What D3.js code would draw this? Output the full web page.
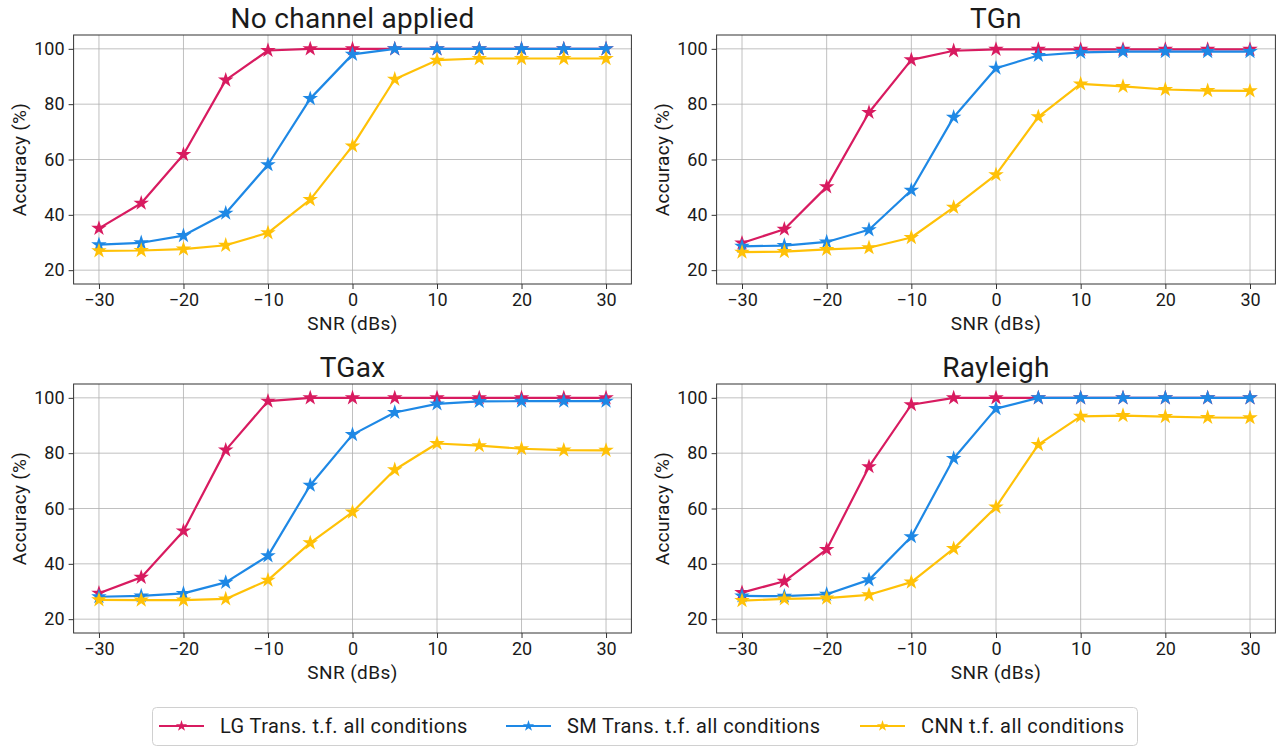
<!DOCTYPE html>
<html>
<head>
<meta charset="utf-8">
<script src="https://cdn.jsdelivr.net/npm/d3@7"></script>
<style>
  body { margin: 0; background: #fff; }
  svg text { font-family: Roboto, "Noto Sans", sans-serif; fill: #1a1a1a; }
</style>
</head>
<body>
<svg id="chart" width="1284" height="746"></svg>
<script>
// SNR values (dB)
var snr = [-30, -25, -20, -15, -10, -5, 0, 5, 10, 15, 20, 25, 30];
var xTicks = [-30, -20, -10, 0, 10, 20, 30];
var yTicks = [20, 40, 60, 80, 100];

var seriesNames = ["LG Trans. t.f. all conditions", "SM Trans. t.f. all conditions", "CNN t.f. all conditions"];
var seriesColors = ["#D81B60", "#1E88E5", "#FFC107"];

var panelTitles = ["No channel applied", "TGn", "TGax", "Rayleigh"];

// accuracy (%) per panel
var noChanLG  = [35.1, 44.2, 61.8, 88.7, 99.4, 100, 100, 100, 100, 100, 100, 100, 100];
var noChanSM  = [29.2, 29.9, 32.5, 40.6, 58.1, 82.0, 98.0, 100, 100, 100, 100, 100, 100];
var noChanCNN = [27.0, 27.1, 27.6, 29.0, 33.5, 45.5, 64.9, 89.0, 95.9, 96.5, 96.5, 96.5, 96.5];

var tgnLG  = [29.8, 34.8, 50.1, 77.0, 96.0, 99.3, 99.8, 99.8, 99.8, 99.8, 99.8, 99.8, 99.8];
var tgnSM  = [28.6, 28.9, 30.2, 34.6, 48.9, 75.3, 93.0, 97.6, 98.7, 99.0, 99.0, 99.0, 99.0];
var tgnCNN = [26.5, 26.7, 27.5, 28.1, 31.8, 42.7, 54.5, 75.4, 87.3, 86.4, 85.3, 84.9, 84.8];

var tgaxLG  = [29.4, 35.1, 51.9, 81.1, 98.8, 100, 100, 100, 100, 100, 100, 100, 100];
var tgaxSM  = [28.1, 28.4, 29.3, 33.3, 42.9, 68.4, 86.7, 94.7, 97.8, 98.7, 98.8, 98.8, 98.8];
var tgaxCNN = [27.0, 26.9, 26.9, 27.3, 34.1, 47.6, 58.7, 74.0, 83.5, 82.7, 81.6, 81.1, 81.0];

var rayLG  = [29.6, 33.7, 45.2, 75.1, 97.5, 100, 100, 100, 100, 100, 100, 100, 100];
var raySM  = [28.4, 28.3, 29.0, 34.2, 49.8, 78.1, 96.1, 100, 100, 100, 100, 100, 100];
var rayCNN = [26.7, 27.3, 27.6, 28.8, 33.4, 45.5, 60.5, 83.1, 93.3, 93.6, 93.2, 92.9, 92.8];

var panelData = [
  [noChanLG, noChanSM, noChanCNN],
  [tgnLG, tgnSM, tgnCNN],
  [tgaxLG, tgaxSM, tgaxCNN],
  [rayLG, raySM, rayCNN]
];

var svg = d3.select("#chart");

// axes boxes: [left, top, right, bottom]
var boxes = [
  [73.6, 35, 631.4, 284],
  [716.6, 35, 1275.4, 284],
  [73.6, 384, 631.4, 633],
  [716.6, 384, 1275.4, 633]
];

var star = d3.symbol().type(d3.symbolStar);

boxes.forEach(function (b, p) {
  var x = d3.scaleLinear().domain([-33, 33]).range([b[0], b[2]]);
  var y = d3.scaleLinear().domain([15, 105]).range([b[3], b[1]]);
  var g = svg.append("g");

  // grid
  g.append("g").selectAll("line").data(xTicks).join("line")
    .attr("x1", function (d) { return x(d); }).attr("x2", function (d) { return x(d); })
    .attr("y1", b[1]).attr("y2", b[3])
    .attr("stroke", "#b0b0b0").attr("stroke-width", 0.8);
  g.append("g").selectAll("line").data(yTicks).join("line")
    .attr("y1", function (d) { return y(d); }).attr("y2", function (d) { return y(d); })
    .attr("x1", b[0]).attr("x2", b[2])
    .attr("stroke", "#b0b0b0").attr("stroke-width", 0.8);

  // axes
  var xAxis = g.append("g").attr("transform", "translate(0," + b[3] + ")")
    .call(d3.axisBottom(x).tickValues(xTicks).tickSize(5).tickPadding(4)
      .tickFormat(function (d) { return d < 0 ? "\u2212" + Math.abs(d) : d; }));
  var yAxis = g.append("g").attr("transform", "translate(" + b[0] + ",0)")
    .call(d3.axisLeft(y).tickValues(yTicks).tickSize(5).tickPadding(4));
  [xAxis, yAxis].forEach(function (a) {
    a.select(".domain").remove();
    a.selectAll("line").attr("stroke", "#333");
    a.selectAll("text").attr("font-size", 18).attr("fill", "#1a1a1a")
      .style("font-family", "Roboto, \"Noto Sans\", sans-serif");
  });

  // series
  var line = d3.line().x(function (d, i) { return x(snr[i]); }).y(function (d) { return y(d); });
  panelData[p].forEach(function (vals, s) {
    g.append("path").datum(vals)
      .attr("d", line).attr("fill", "none")
      .attr("stroke", seriesColors[s]).attr("stroke-width", 2.2)
      .attr("stroke-linejoin", "round");
    g.append("g").selectAll("path").data(vals).join("path")
      .attr("d", star.size(75))
      .attr("transform", function (d, i) { return "translate(" + x(snr[i]) + "," + y(d) + ")"; })
      .attr("fill", seriesColors[s]);
  });

  // frame
  g.append("rect").attr("x", b[0]).attr("y", b[1])
    .attr("width", b[2] - b[0]).attr("height", b[3] - b[1])
    .attr("fill", "none").attr("stroke", "#333").attr("stroke-width", 1);

  // titles and labels
  svg.append("text").attr("x", (b[0] + b[2]) / 2).attr("y", b[1] - 7)
    .attr("text-anchor", "middle").attr("font-size", 28).attr("letter-spacing", 0.3)
    .text(panelTitles[p]);
  svg.append("text").attr("x", (b[0] + b[2]) / 2).attr("y", b[3] + 46)
    .attr("text-anchor", "middle").attr("font-size", 19).attr("letter-spacing", 0.4)
    .text("SNR (dBs)");
  svg.append("text")
    .attr("transform", "translate(" + (b[0] - 48) + "," + ((b[1] + b[3]) / 2) + ") rotate(-90)")
    .attr("text-anchor", "middle").attr("font-size", 19).attr("letter-spacing", 0.3)
    .text("Accuracy (%)");
});

// legend
var legend = svg.append("g");
legend.append("rect").attr("x", 152.5).attr("y", 707.5).attr("width", 985).attr("height", 38)
  .attr("rx", 4).attr("fill", "#fff").attr("stroke", "#d0d0d0");
var legendX = [159, 506, 860];
seriesNames.forEach(function (name, s) {
  var lx = legendX[s];
  legend.append("line").attr("x1", lx).attr("x2", lx + 45).attr("y1", 726).attr("y2", 726)
    .attr("stroke", seriesColors[s]).attr("stroke-width", 2.2);
  legend.append("path").attr("d", star.size(40))
    .attr("transform", "translate(" + (lx + 22.5) + ",726)").attr("fill", seriesColors[s]);
  legend.append("text").attr("x", lx + 61).attr("y", 733).attr("font-size", 20)
    .attr("letter-spacing", 0.4).text(name);
});
</script>
</body>
</html>
